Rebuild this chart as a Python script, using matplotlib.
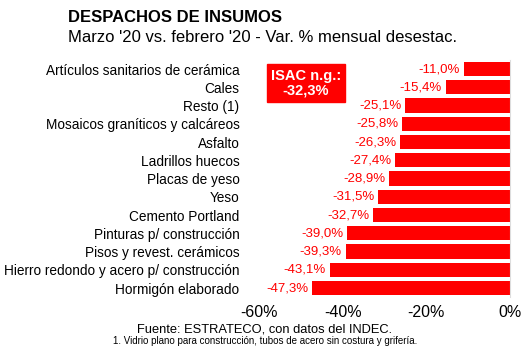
import matplotlib.pyplot as plt

plt.rcParams['font.family'] = ['Liberation Sans', 'DejaVu Sans']

# data
categorias = [
    'Artículos sanitarios de cerámica',
    'Cales',
    'Resto (1)',
    'Mosaicos graníticos y calcáreos',
    'Asfalto',
    'Ladrillos huecos',
    'Placas de yeso',
    'Yeso',
    'Cemento Portland',
    'Pinturas p/ construcción',
    'Pisos y revest. cerámicos',
    'Hierro redondo y acero p/ construcción',
    'Hormigón elaborado',
]
variacion = [-11.0, -15.4, -25.1, -25.8, -26.3, -27.4, -28.9, -31.5, -32.7, -39.0, -39.3, -43.1, -47.3]
ticks = [-60, -40, -20, 0]
isac = -32.3

rojo = '#ff0000'

fig = plt.figure(figsize=(5.3, 3.55), dpi=100)
ax = fig.add_axes([259 / 530, 0.163, 251 / 530, 0.668])

y = list(range(len(categorias)))
ax.barh(y, variacion, height=0.78, color=rojo)
ax.set_ylim(len(categorias) - 0.5, -0.5)
ax.set_xlim(-60, 0)

# value labels
for yi, v in zip(y, variacion):
    txt = ('%.1f%%' % v).replace('.', ',')
    ax.text(v - 0.9, yi, txt, ha='right', va='center', color=rojo, fontsize=9.5)

ax.set_yticks(y)
ax.set_yticklabels(categorias, fontsize=9.8)
ax.tick_params(axis='y', length=0, pad=14)
ax.set_xticks(ticks)
ax.set_xticklabels(['%d%%' % t for t in ticks], fontsize=11.5)
ax.tick_params(axis='x', length=0, pad=6)

for s in ['top', 'left', 'bottom']:
    ax.spines[s].set_visible(False)
ax.spines['right'].set_color('#dddddd')

# ISAC box
fig.patches.append(plt.Rectangle((267 / 530, 1 - 102 / 355), 78 / 530, 38 / 355,
                                 transform=fig.transFigure, color=rojo))
fig.text(306 / 530, 1 - 83 / 355, 'ISAC n.g.:\n' + ('%.1f%%' % isac).replace('.', ','),
         ha='center', va='center', color='white', fontsize=10.5, fontweight='bold',
         linespacing=1.05)

fig.text(68 / 530, 1 - 17 / 355, 'DESPACHOS DE INSUMOS', fontsize=12, fontweight='bold',
         ha='left', va='center')
fig.text(68 / 530, 1 - 38 / 355, "Marzo '20 vs. febrero '20 - Var. % mensual desestac.",
         fontsize=12, ha='left', va='center')
fig.text(265 / 530, 1 - 329 / 355, 'Fuente: ESTRATECO, con datos del INDEC.',
         fontsize=9.3, ha='center', va='center')
fig.text(265 / 530, 1 - 341 / 355,
         '1. Vidrio plano para construcción, tubos de acero sin costura y grifería.',
         fontsize=7, ha='center', va='center')

fig.savefig('out.png', dpi=100)
